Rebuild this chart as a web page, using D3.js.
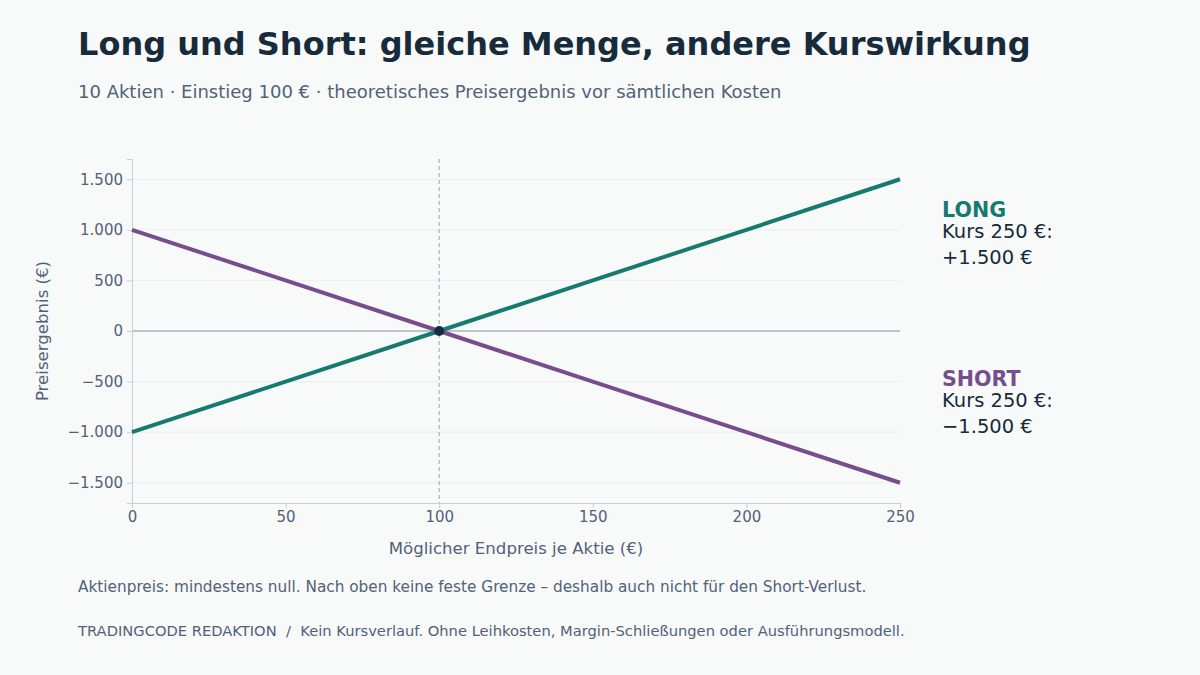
<!DOCTYPE html>
<html>
<head>
<meta charset="utf-8">
<script src="https://cdn.jsdelivr.net/npm/d3@7"></script>
<style>
  html, body { margin: 0; padding: 0; background: #f8fafa; }
  svg { display: block; font-family: "DejaVu Sans", sans-serif; }
</style>
</head>
<body>
<div class="chart"></div>
<script>
// Long vs short price result, 10 shares, entry 100 €
var prices = [0, 50, 100, 150, 200, 250];
var longResult = [-1000, -500, 0, 500, 1000, 1500];
var shortResult = [1000, 500, 0, -500, -1000, -1500];
var yTicks = [-1500, -1000, -500, 0, 500, 1000, 1500];
var xTicks = [0, 50, 100, 150, 200, 250];
var entryPrice = 100;

var width = 1200;
var height = 675;
var teal = "#167a70";
var purple = "#774e8d";

var svg = d3.select(".chart").append("svg")
    .attr("width", width)
    .attr("height", height);

svg.append("rect").attr("width", width).attr("height", height).attr("fill", "#f8fafa");

var x = d3.scaleLinear().domain([0, 250]).range([132, 900]);
var y = d3.scaleLinear().domain([-1700, 1700]).range([503, 159]);

var fmt = function(v) {
  var s = d3.format(",")(Math.abs(v)).replace(/,/g, ".");
  return (v < 0 ? "\u2212" : "") + s;
};

// title + subtitle
svg.append("text").attr("x", 78).attr("y", 55)
    .attr("font-size", 32).attr("font-weight", "bold").attr("fill", "#172b3a")
    .text("Long und Short: gleiche Menge, andere Kurswirkung");
svg.append("text").attr("x", 78).attr("y", 98)
    .attr("font-size", 18).attr("fill", "#526178")
    .text("10 Aktien \u00b7 Einstieg 100 \u20ac \u00b7 theoretisches Preisergebnis vor s\u00e4mtlichen Kosten");

// grid
svg.append("g").selectAll("line").data(yTicks.filter(function(d){ return d !== 0; }))
  .enter().append("line")
    .attr("x1", x(0)).attr("x2", x(250))
    .attr("y1", function(d){ return y(d); }).attr("y2", function(d){ return y(d); })
    .attr("stroke", "#e9eef0").attr("stroke-width", 1);

// zero line
svg.append("line").attr("x1", x(0)).attr("x2", x(250))
    .attr("y1", y(0)).attr("y2", y(0))
    .attr("stroke", "#a9b4bb").attr("stroke-width", 1.3);

// entry marker line
svg.append("line").attr("x1", x(entryPrice)).attr("x2", x(entryPrice))
    .attr("y1", y(1700)).attr("y2", y(-1700))
    .attr("stroke", "#aab3b9").attr("stroke-width", 1.2).attr("stroke-dasharray", "4,3");

// axes
var yAxis = svg.append("g").attr("transform", "translate(" + x(0) + ",0)")
    .call(d3.axisLeft(y).tickValues(yTicks).tickFormat(fmt).tickSizeOuter(0).tickSize(5).tickPadding(4));
var xAxis = svg.append("g").attr("transform", "translate(0," + y(-1700) + ")")
    .call(d3.axisBottom(x).tickValues(xTicks).tickSizeOuter(0).tickSize(5).tickPadding(3));

[yAxis, xAxis].forEach(function(a) {
  a.select(".domain").attr("stroke", "#c5d0d6");
  a.selectAll(".tick line").attr("stroke", "#c5d0d6");
  a.selectAll(".tick text").attr("fill", "#526178").attr("font-size", 15)
      .attr("font-family", "DejaVu Sans, sans-serif");
});

svg.append("text")
    .attr("transform", "translate(48," + y(0) + ") rotate(-90)")
    .attr("text-anchor", "middle").attr("font-size", 16.6).attr("fill", "#526178")
    .text("Preisergebnis (\u20ac)");
svg.append("text").attr("x", (x(0) + x(250)) / 2).attr("y", 554)
    .attr("text-anchor", "middle").attr("font-size", 16.6).attr("fill", "#526178")
    .text("M\u00f6glicher Endpreis je Aktie (\u20ac)");

// lines
var line = d3.line()
    .x(function(d){ return x(d[0]); })
    .y(function(d){ return y(d[1]); });

svg.append("path").datum(d3.zip(prices, shortResult))
    .attr("d", line).attr("fill", "none").attr("stroke", purple).attr("stroke-width", 4);
svg.append("path").datum(d3.zip(prices, longResult))
    .attr("d", line).attr("fill", "none").attr("stroke", teal).attr("stroke-width", 4);

svg.append("circle").attr("cx", x(entryPrice)).attr("cy", y(0)).attr("r", 5).attr("fill", "#172b3a");

// right side labels
var labels = [
  { name: "LONG", color: teal, value: longResult[longResult.length - 1], top: 217 },
  { name: "SHORT", color: purple, value: shortResult[shortResult.length - 1], top: 386 }
];
labels.forEach(function(l) {
  svg.append("text").attr("x", 942).attr("y", l.top)
      .attr("font-size", 20.6).attr("font-weight", "bold").attr("fill", l.color).text(l.name);
  svg.append("text").attr("x", 942).attr("y", l.top + 21)
      .attr("font-size", 19.5).attr("fill", "#172b3a")
      .text("Kurs " + prices[prices.length - 1] + " \u20ac:");
  svg.append("text").attr("x", 942).attr("y", l.top + 47)
      .attr("font-size", 19.5).attr("fill", "#172b3a")
      .text((l.value > 0 ? "+" : "") + fmt(l.value) + " \u20ac");
});

// footer
svg.append("text").attr("x", 78).attr("y", 592)
    .attr("font-size", 15.3).attr("fill", "#526178")
    .text("Aktienpreis: mindestens null. Nach oben keine feste Grenze \u2013 deshalb auch nicht f\u00fcr den Short-Verlust.");
svg.append("text").attr("x", 78).attr("y", 636)
    .attr("font-size", 14.7).attr("fill", "#526178")
    .text("TRADINGCODE REDAKTION  /  Kein Kursverlauf. Ohne Leihkosten, Margin-Schlie\u00dfungen oder Ausf\u00fchrungsmodell.")
    .attr("xml:space", "preserve").style("white-space", "pre");
</script>
</body>
</html>
